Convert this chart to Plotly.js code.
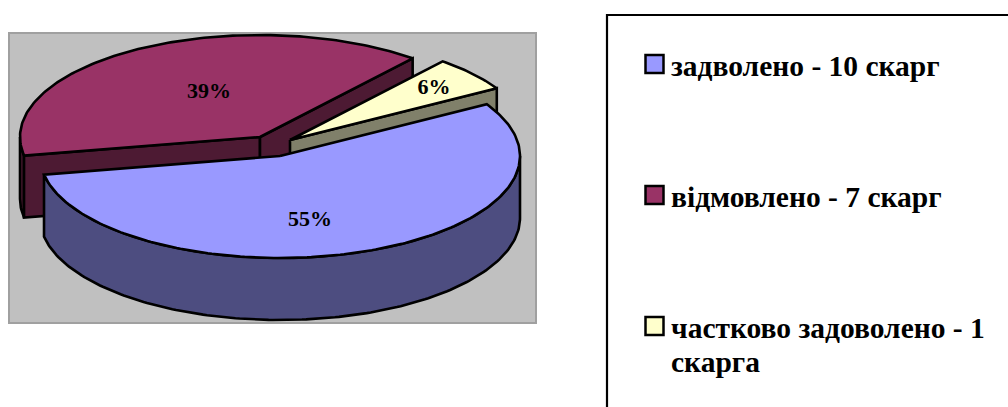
<!DOCTYPE html>
<html>
<head>
<meta charset="utf-8">
<script src="https://cdn.plot.ly/plotly-3.0.1.min.js"></script>
<style>html,body{margin:0;padding:0;background:#fff;overflow:hidden}#chart{width:1008px;height:407px}</style>
</head>
<body>
<div id="chart"></div>
<script>
// Data
const categories = ["задволено - 10 скарг", "відмовлено - 7 скарг", "частково задоволено - 1 скарга"];
const complaints = [10, 7, 1];
const percentLabels = ["55%", "39%", "6%"];
const legendLines = [["задволено - 10 скарг"], ["відмовлено - 7 скарг"], ["частково задоволено - 1", "скарга"]];

// Styles
const topColors = ["#9999FF", "#993366", "#FFFFCC"];
const sideColors = ["#4D4D80", "#4D1A33", "#80806A"];
const serif = '"Liberation Serif", "Times New Roman", serif';

// Layout of the drawing (pixel-like scale of the axes)
const rx = 240, ry = 102, depth = 62;
const centers = [[280, 156], [260, 137], [290, 140]];
const startAngle = 30.5;
const labelAt = [[310, 220], [209, 92], [434, 88]];
const legendMarkerX = 654.5;
const legendRowY = [64, 195, 326];
const legendLinePitch = 34;

const total = complaints.reduce((a, b) => a + b, 0);
const angles = [];
let running = startAngle;
complaints.forEach(v => {
  const span = v / total * 360;
  angles.push([running, running - span]);
  running -= span;
});

function pt(c, deg, dy) {
  const r = deg * Math.PI / 180;
  return [c[0] + rx * Math.cos(r), c[1] - ry * Math.sin(r) + (dy || 0)];
}
function arc(c, a0, a1, dy) {
  const out = [];
  const n = Math.max(2, Math.ceil(Math.abs(a1 - a0)));
  for (let i = 0; i <= n; i++) out.push(pt(c, a0 + (a1 - a0) * i / n, dy));
  return out;
}
function poly(points, fill) {
  const closed = points.concat([points[0]]);
  return {
    type: "scatter", mode: "lines", fill: "toself", fillcolor: fill,
    x: closed.map(p => p[0]), y: closed.map(p => p[1]),
    line: {color: "#000", width: 2.6, shape: "linear"},
    hoverinfo: "skip", showlegend: false
  };
}
function topFace(i) {
  const c = centers[i];
  return poly([c].concat(arc(c, angles[i][0], angles[i][1])), topColors[i]);
}
function cutWall(i, deg) {
  const c = centers[i];
  const e = pt(c, deg);
  return poly([c, e, [e[0], e[1] + depth], [c[0], c[1] + depth]], sideColors[i]);
}
function outerWall(i, a0, a1) {
  const c = centers[i];
  return poly(arc(c, a0, a1).concat(arc(c, a1, a0, depth)), sideColors[i]);
}

const traces = [
  // red slice (rear left)
  outerWall(1, angles[1][0], -180),
  cutWall(1, angles[1][0]),
  cutWall(1, angles[1][1]),
  topFace(1),
  // yellow slice (rear right)
  cutWall(2, angles[2][1]),
  topFace(2),
  // blue slice (front)
  outerWall(0, 0, angles[0][1]),
  topFace(0)
];

traces.push({
  type: "scatter", mode: "text",
  x: labelAt.map(p => p[0]), y: labelAt.map(p => p[1]),
  text: percentLabels, textposition: "middle center",
  textfont: {family: serif, size: 22, color: "#000", weight: 700},
  hoverinfo: "skip", showlegend: false
});

categories.forEach((name, i) => traces.push({
  type: "scatter", mode: "markers", name: name,
  x: [legendMarkerX], y: [legendRowY[i]],
  marker: {symbol: "square", size: 18, color: topColors[i], line: {color: "#000", width: 2.5}},
  hoverinfo: "skip", showlegend: false
}));

const annotations = [];
legendLines.forEach((lines, i) => lines.forEach((t, j) => annotations.push({
  xref: "x", yref: "y", x: 669, y: legendRowY[i] + 2 + j * legendLinePitch,
  xanchor: "left", yanchor: "middle", showarrow: false, align: "left",
  text: "<b>" + t + "</b>",
  font: {family: serif, size: 29.5, color: "#000"}
})));

const layout = {
  width: 1008, height: 407,
  margin: {l: 0, r: 0, t: 0, b: 0},
  paper_bgcolor: "#fff", plot_bgcolor: "#fff",
  showlegend: false,
  xaxis: {range: [0, 1008], visible: false, fixedrange: true},
  yaxis: {range: [407, 0], visible: false, fixedrange: true},
  shapes: [
    {type: "rect", layer: "below", xref: "x", yref: "y", x0: 9, x1: 536, y0: 33, y1: 323,
     fillcolor: "#C0C0C0", line: {color: "#A0A0A0", width: 2}},
    {type: "rect", layer: "below", xref: "x", yref: "y", x0: 607, x1: 1030, y0: 15, y1: 430,
     fillcolor: "#fff", line: {color: "#000", width: 2.2}}
  ],
  annotations: annotations
};
Plotly.newPlot("chart", traces, layout, {displayModeBar: false, staticPlot: true});
</script>
</body>
</html>
